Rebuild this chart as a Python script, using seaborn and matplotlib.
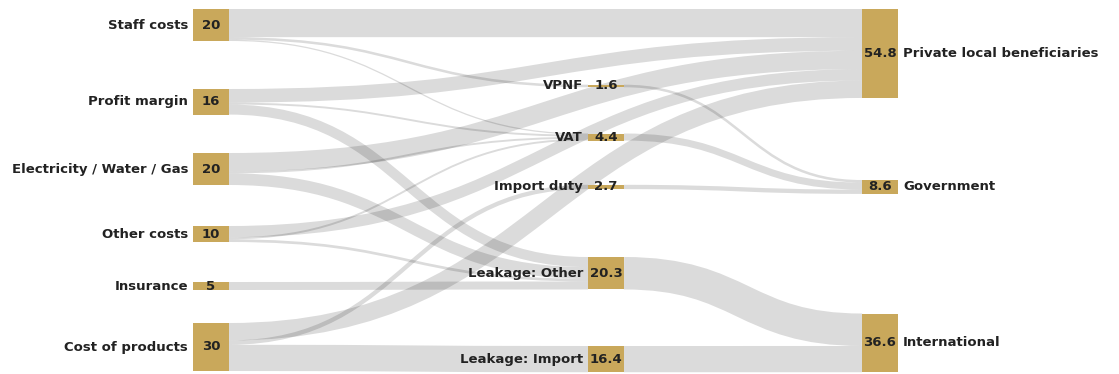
import matplotlib
matplotlib.use("Agg")
import matplotlib.pyplot as plt
from matplotlib.path import Path
from matplotlib.patches import PathPatch, Rectangle
import seaborn as sns

# ---------------- data ----------------
sources = ["Staff costs", "Profit margin", "Electricity / Water / Gas",
           "Other costs", "Insurance", "Cost of products"]
source_values = [20, 16, 20, 10, 5, 30]

middles = ["VPNF", "VAT", "Import duty", "Leakage: Other", "Leakage: Import"]
middle_values = [1.6, 4.4, 2.7, 20.3, 16.4]

targets = ["Private local beneficiaries", "Government", "International"]
target_values = [54.8, 8.6, 36.6]

link_from = ["Staff costs", "Staff costs", "Staff costs",
             "Profit margin", "Profit margin", "Profit margin",
             "Electricity / Water / Gas", "Electricity / Water / Gas", "Electricity / Water / Gas",
             "Other costs", "Other costs", "Other costs",
             "Insurance",
             "Cost of products", "Cost of products", "Cost of products",
             "VPNF", "VAT", "Import duty", "Leakage: Other", "Leakage: Import"]
link_to = ["Private local beneficiaries", "VPNF", "VAT",
           "Private local beneficiaries", "VAT", "Leakage: Other",
           "Private local beneficiaries", "VAT", "Leakage: Other",
           "Private local beneficiaries", "VAT", "Leakage: Other",
           "Leakage: Other",
           "Private local beneficiaries", "Import duty", "Leakage: Import",
           "Government", "Government", "Government", "International", "International"]
link_values = [17.6, 1.6, 0.8,
               8.5, 1.2, 6.3,
               11.5, 1.2, 7.3,
               7.1, 1.2, 1.7,
               5.0,
               10.9, 2.7, 16.4,
               1.6, 4.4, 2.7, 20.3, 16.4]

# ---------------- layout (pixels) ----------------
W, H = 1119, 374
SCALE = 1.6          # px per unit
NODE_W = 36
col_x = {0: 193, 1: 588, 2: 862}
node_top = {
    "Staff costs": 9, "Profit margin": 89, "Electricity / Water / Gas": 153,
    "Other costs": 226, "Insurance": 282, "Cost of products": 323,
    "VPNF": 84.7, "VAT": 133.5, "Import duty": 184.8,
    "Leakage: Other": 257, "Leakage: Import": 346,
    "Private local beneficiaries": 9, "Government": 180, "International": 313.5,
}
NODE_COLOR = "#c9a85b"
TEXT_COLOR = "#222222"
FONT_SIZE = 9.5

sns.set_theme(style="white")
plt.rcParams["font.family"] = ["DejaVu Sans"]

fig = plt.figure(figsize=(W / 100, H / 100), dpi=100)
ax = fig.add_axes([0, 0, 1, 1])
ax.set_xlim(0, W)
ax.set_ylim(H, 0)
ax.axis("off")

column = {}
labels = {}
for n, v in zip(sources, source_values):
    column[n] = 0; labels[n] = v
for n, v in zip(middles, middle_values):
    column[n] = 1; labels[n] = v
for n, v in zip(targets, target_values):
    column[n] = 2; labels[n] = v

# node heights from flows
out_sum = {n: 0.0 for n in column}
in_sum = {n: 0.0 for n in column}
for s, t, v in zip(link_from, link_to, link_values):
    out_sum[s] += v
    in_sum[t] += v
node_h = {n: max(out_sum[n], in_sum[n]) * SCALE for n in column}

# stacking offsets
links = list(zip(link_from, link_to, link_values))
src_off = {}
for n in column:
    outs = sorted([l for l in links if l[0] == n], key=lambda l: node_top[l[1]])
    y = node_top[n]
    for l in outs:
        src_off[(l[0], l[1])] = y
        y += l[2] * SCALE
tgt_off = {}
for n in column:
    ins = sorted([l for l in links if l[1] == n], key=lambda l: node_top[l[0]])
    y = node_top[n]
    for l in ins:
        tgt_off[(l[0], l[1])] = y
        y += l[2] * SCALE

# links
for s, t, v in links:
    w = v * SCALE
    x0 = col_x[column[s]] + NODE_W
    x1 = col_x[column[t]]
    y0 = src_off[(s, t)] + w / 2
    y1 = tgt_off[(s, t)] + w / 2
    xm = (x0 + x1) / 2
    path = Path([(x0, y0), (xm, y0), (xm, y1), (x1, y1)],
                [Path.MOVETO, Path.CURVE4, Path.CURVE4, Path.CURVE4])
    ax.add_patch(PathPatch(path, fill=False, edgecolor="black", alpha=0.14,
                           linewidth=w * 72 / 100, capstyle="butt", zorder=1))

# nodes and labels
for n in column:
    x = col_x[column[n]]
    y = node_top[n]
    h = node_h[n]
    ax.add_patch(Rectangle((x, y), NODE_W, h, facecolor=NODE_COLOR,
                           edgecolor="none", zorder=2))
    cy = y + h / 2
    vtxt = f"{labels[n]:g}"
    ax.text(x + NODE_W / 2, cy, vtxt, ha="center", va="center", fontsize=FONT_SIZE,
            fontweight="bold", color=TEXT_COLOR, zorder=3)
    if column[n] < 2:
        ax.text(x - 5, cy, n, ha="right", va="center", fontsize=FONT_SIZE,
                fontweight="bold", color=TEXT_COLOR, zorder=3)
    else:
        ax.text(x + NODE_W + 5, cy, n, ha="left", va="center", fontsize=FONT_SIZE,
                fontweight="bold", color=TEXT_COLOR, zorder=3)

fig.savefig("out.png", dpi=100, facecolor="white")
